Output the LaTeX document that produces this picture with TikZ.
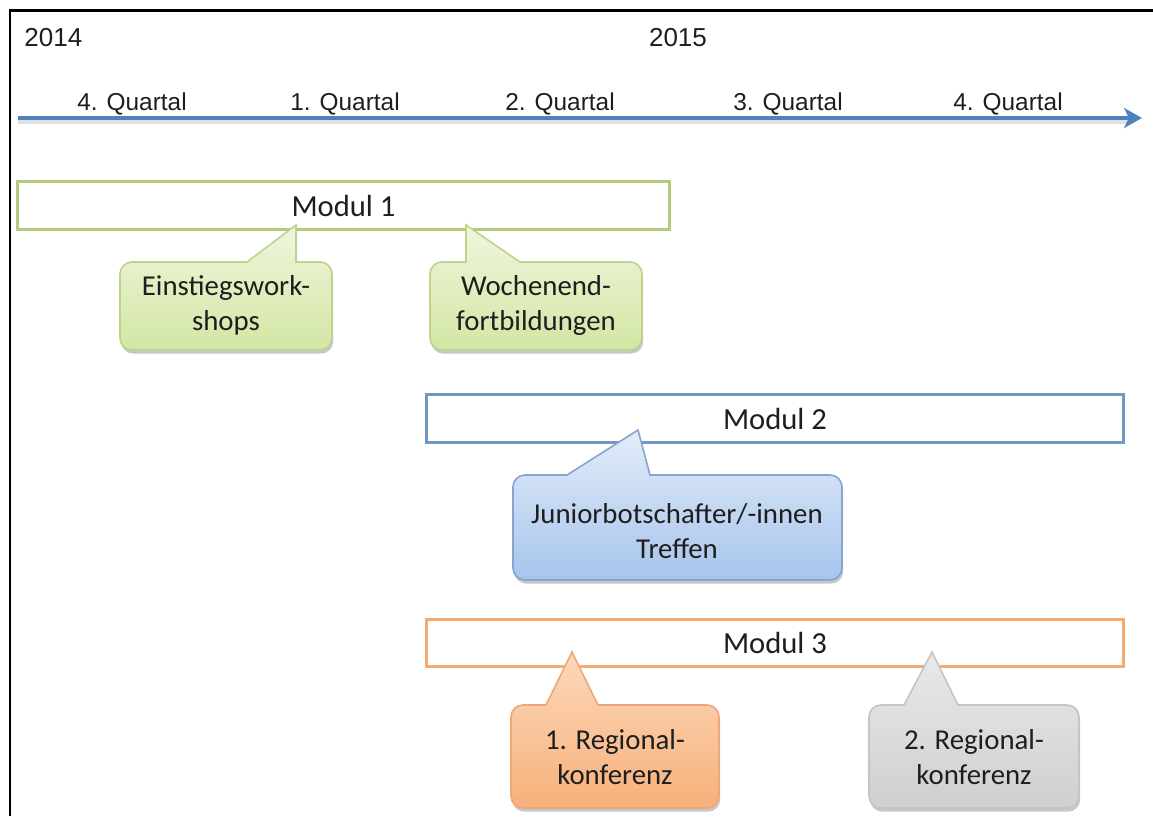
\documentclass[tikz,border=0pt]{standalone}
\usepackage{fontspec}
\setmainfont{Carlito}
\newfontfamily\arialfont{Liberation Sans}
\usetikzlibrary{arrows.meta,shadows}

\definecolor{axisblue}{HTML}{4F81BD}
\definecolor{grnline}{HTML}{B2CB7E}
\definecolor{grntop}{HTML}{EFF6DD}
\definecolor{grnbot}{HTML}{D3E6A4}
\definecolor{grnedge}{HTML}{BDD38E}
\definecolor{bluline}{HTML}{7097C6}
\definecolor{blutop}{HTML}{E2ECF9}
\definecolor{blubot}{HTML}{A7C4EC}
\definecolor{bluedge}{HTML}{86A5CF}
\definecolor{orgline}{HTML}{F6AA6E}
\definecolor{orgtop}{HTML}{FCD9BC}
\definecolor{orgbot}{HTML}{F7B07A}
\definecolor{orgedge}{HTML}{EDA878}
\definecolor{grytop}{HTML}{E9E9E9}
\definecolor{grybot}{HTML}{CFCFCF}
\definecolor{gryedge}{HTML}{C4C4C4}
\definecolor{ink}{HTML}{1E1E1E}

% rounded speech bubble: style, x1, y1, x2, y2, pointer base left, pointer base right, tip x, tip y
\newcommand\bubblepath[9]{%
  \path[#1] (#6,#3) -- ({#2+12},#3) arc[start angle=270,end angle=180,radius=12]
    -- (#2,{#5-12}) arc[start angle=180,end angle=90,radius=12]
    -- ({#4-12},#5) arc[start angle=90,end angle=0,radius=12]
    -- (#4,{#3+12}) arc[start angle=0,end angle=-90,radius=12]
    -- (#7,#3) -- (#8,#9) -- cycle;}

\begin{document}
\begin{tikzpicture}[x=0.5pt,y=-0.5pt,
  timelbl/.style={font=\arialfont\fontsize{12.2}{14}\selectfont, text=ink, inner sep=0pt},
  yearlbl/.style={font=\arialfont\fontsize{13}{15}\selectfont, text=ink, inner sep=0pt},
  modbox/.style={line width=1.5pt, fill=white, minimum width=326pt, minimum height=24pt,
    anchor=north west, inner sep=0pt, font=\fontsize{15.3}{17}\selectfont, text=ink},
  bubtxt/.style={font=\fontsize{14.4}{17.5}\selectfont, align=center, text=ink, inner sep=0pt},
  bub/.style={line width=0.8pt, drop shadow={shadow xshift=0.6pt, shadow yshift=-1.8pt, opacity=0.22, fill=black}},
  grnbub/.style={bub, draw=grnedge, top color=grntop, bottom color=grnbot},
  blubub/.style={bub, draw=bluedge, top color=blutop, bottom color=blubot},
  orgbub/.style={bub, draw=orgedge, top color=orgtop, bottom color=orgbot},
  grybub/.style={bub, draw=gryedge, top color=grytop, bottom color=grybot},
]
\useasboundingbox (0,0) rectangle (1153,816);

% frame lines
\coordinate (fb) at (10,816);
\coordinate (fc) at (10,10.5);
\coordinate (fr) at (1153,10.5);
\draw[line width=1.3pt] (fb) -- (fc) -- (fr);

% years and quarters
\node[yearlbl, anchor=west] (y14) at (24,38) {2014};
\node[yearlbl] (y15) at (678,38) {2015};
\node[timelbl] (q1) at (132,104) {4. Quartal};
\node[timelbl] (q2) at (345,104) {1. Quartal};
\node[timelbl] (q3) at (560,104) {2. Quartal};
\node[timelbl] (q4) at (788,104) {3. Quartal};
\node[timelbl] (q5) at (1008,104) {4. Quartal};

% time axis
\coordinate (ax0) at (18,118);
\coordinate (ax1) at (1142,118);
\draw[line width=3.2pt, black, opacity=0.12] ([yshift=-1.5pt]ax0) -- ([yshift=-1.5pt,xshift=-6pt]ax1);
\draw[line width=1.6pt, axisblue, -{Stealth[length=9pt,width=10pt,inset=2.5pt]}] (ax0) -- (ax1);

% modules
\node[modbox, draw=grnline] (m1) at (16,180) {Modul 1};
\node[modbox, draw=bluline, minimum width=348.5pt] (m2) at (425,393) {Modul 2};
\node[modbox, draw=orgline, minimum width=348.5pt, minimum height=23.5pt] (m3) at (425,618) {Modul 3};

% speech bubbles
\bubblepath{grnbub}{120}{262}{332}{350}{247}{296}{296}{225}
\node[bubtxt] (b1) at (226,305) {Einstiegswork-\\shops};

\bubblepath{grnbub}{430}{262}{642}{350}{466}{520}{466}{225}
\node[bubtxt] (b2) at (536,305) {Wochenend-\\fortbildungen};

\bubblepath{blubub}{513}{475}{842}{580}{567}{650}{638}{430}
\node[bubtxt] (b3) at (677,531) {Juniorbotschafter/-innen\\Treffen};

\bubblepath{orgbub}{511}{705}{719}{808}{546}{598}{572}{652}
\node[bubtxt] (b4) at (615,757) {1. Regional-\\konferenz};

\bubblepath{grybub}{869}{705}{1079}{808}{904}{958}{932}{652}
\node[bubtxt] (b5) at (974,757) {2. Regional-\\konferenz};
\end{tikzpicture}
\end{document}
